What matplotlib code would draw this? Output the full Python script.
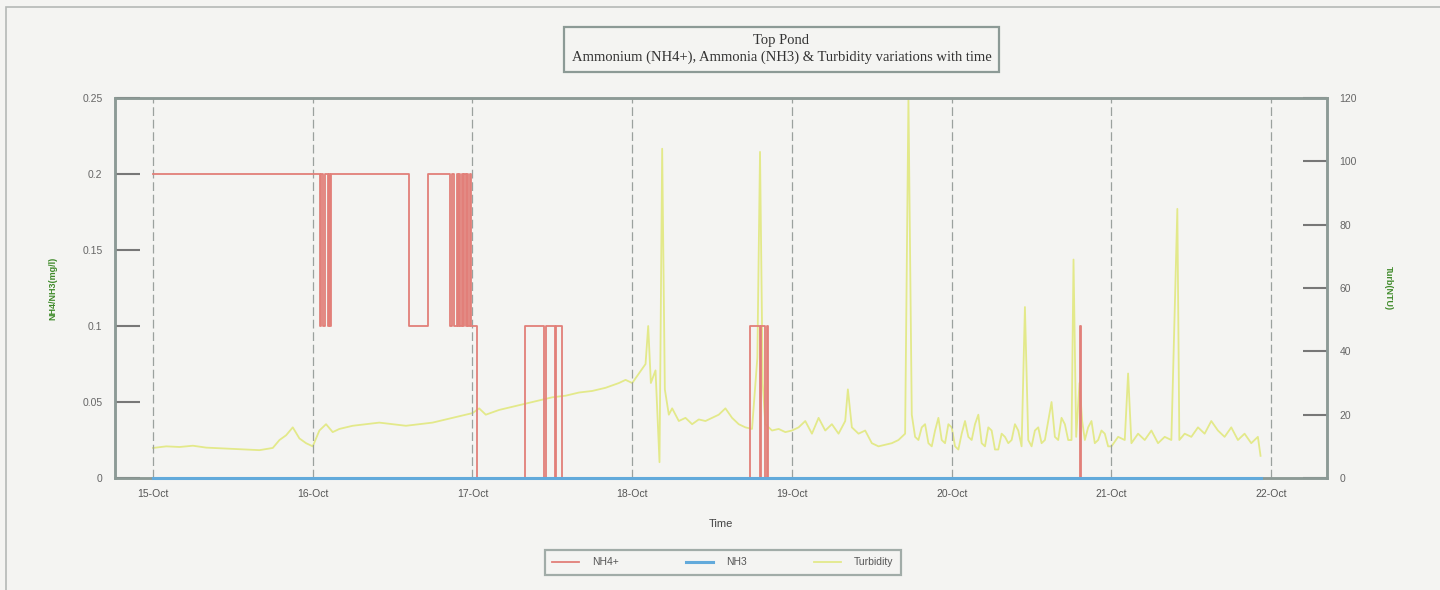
"""
Top Pond: NH4+, NH3 and turbidity against time
"""
import pandas as pd
import matplotlib
matplotlib.use("Agg")
import matplotlib.pyplot as plt
import matplotlib.dates as mdates
from matplotlib.patches import Rectangle

START = pd.Timestamp("2013-10-15 00:00")

# NH4+ (mg/l), step series, hours from 15-Oct 00:00
nh4_hours = [0, 25.1, 25.3, 25.6, 25.8, 26.3, 26.5, 26.6, 26.8,
             38.4, 41.3, 44.6, 44.9, 45.2, 45.6, 45.8, 46.0, 46.2, 46.4,
             46.6, 46.8, 47.0, 47.2, 47.4, 47.6, 47.8, 48.7,
             55.9, 58.8, 59.0, 60.4, 60.6, 61.5,
             89.7, 91.2, 91.4, 92.0, 92.2, 92.4,
             139.2, 139.5, 166.4]
nh4_vals = [0.2, 0.1, 0.2, 0.1, 0.2, 0.1, 0.2, 0.1, 0.2,
            0.1, 0.2, 0.1, 0.2, 0.1, 0.2, 0.1, 0.2, 0.1, 0.2,
            0.1, 0.2, 0.1, 0.2, 0.1, 0.2, 0.1, 0.0,
            0.1, 0.0, 0.1, 0.0, 0.1, 0.0,
            0.1, 0.0, 0.1, 0.0, 0.1, 0.0,
            0.1, 0.0, 0.0]

# NH3 (mg/l)
nh3_hours = [0, 48, 96, 166.4]
nh3_vals = [0.0, 0.0, 0.0, 0.0]

# Turbidity (NTU)
turb_hours = [0, 2, 4, 6, 8, 10, 12, 14, 16, 18, 19, 20, 21, 22, 23, 24,
              25, 26, 27, 28, 30, 32, 34, 36, 38, 40, 42, 44, 46, 48, 49, 50,
              52, 54, 56, 58, 60, 62, 64, 66, 68, 70, 71,
              72, 73, 74, 74.4, 74.8, 75.5, 76.1, 76.5, 76.9, 77.5, 78, 79, 80,
              81, 82, 83, 84, 85, 86, 87, 88, 89, 90, 90.8, 91.2, 91.6, 92, 93,
              94, 95, 96, 97, 98, 99, 100, 101, 102, 103, 104, 104.4, 105, 106,
              107, 108, 109, 110, 111, 112, 113, 113.5, 114, 114.5, 115, 115.5,
              116, 116.5, 117, 117.5, 118, 118.5, 119, 119.5, 120, 120.5, 121,
              121.5, 122, 122.5, 123, 123.5, 124, 124.5, 125, 125.5, 126, 126.5,
              127, 127.5, 128, 128.5, 129, 129.5, 130, 130.5, 131,
              131.5, 132, 132.5, 133, 133.5, 134, 134.5, 135, 135.5, 136, 136.5,
              137, 137.5, 138, 138.3, 138.7, 139.2, 139.6, 140, 140.5,
              141, 141.5, 142, 142.5, 143, 143.5, 144, 145, 146, 146.5, 147, 148,
              149, 150, 151, 152, 153, 153.9, 154.2, 155, 156, 157, 158, 159, 160,
              161, 162, 163, 164, 165, 166, 166.4]
turb_vals = [9.5, 10, 9.8, 10.2, 9.6, 9.4, 9.2, 9.0, 8.8, 9.5, 12, 13.5, 16, 12.5, 11, 10,
             15, 17, 14.5, 15.5, 16.5, 17, 17.5, 17, 16.5, 17, 17.5, 18.5, 19.5, 20.5, 22, 20,
             21.5, 22.5, 23.5, 24.5, 25.5, 26, 27, 27.5, 28.5, 30, 31,
             30, 33, 36, 48, 30, 34, 5, 104, 28, 20, 22, 18, 19,
             17, 18.5, 18, 19, 20, 22, 19, 17, 16, 15.5, 38, 103, 30, 17, 15,
             15.5, 14.5, 15, 16, 18, 14, 19, 15, 17, 14, 18, 28, 16, 14,
             15, 11, 10, 10.5, 11, 12, 14, 120, 20, 13, 12, 16,
             17, 11, 10, 15, 19, 12, 11, 17, 16, 10, 9,
             14, 18, 13, 12, 17, 20, 11, 10, 16, 15, 9, 9,
             14, 13, 11, 12, 17, 15, 10, 54,
             12, 10, 15, 16, 11, 12, 18, 24, 13, 12, 19,
             17, 12, 12, 69, 13, 30, 18, 12, 16,
             18, 11, 12, 15, 14, 10, 10, 13, 12, 33, 11, 14,
             12, 15, 11, 13, 12, 85, 12, 14, 13, 16, 14, 18, 15,
             13, 16, 12, 14, 11, 13, 7]


def to_time(hours):
    return START + pd.to_timedelta(hours, unit="h")


plt.rcParams["font.family"] = ["Liberation Sans", "DejaVu Sans"]
bg = "#f4f4f2"
fig = plt.figure(figsize=[14.4, 5.9], dpi=100, facecolor=bg)
ax = fig.add_axes([0.0799, 0.1898, 0.8417, 0.644])
ax2 = ax.twinx()
ax.set_zorder(ax2.get_zorder() + 1)
ax.patch.set_visible(False)
ax2.set_facecolor(bg)

l3, = ax2.plot(to_time(turb_hours), turb_vals, color="#e3e98a", lw=1.3, label="Turbidity")
l1, = ax.plot(to_time(nh4_hours), nh4_vals, color="#e27f79", lw=1.3,
              drawstyle="steps-post", label="NH4+")
l2, = ax.plot(to_time(nh3_hours), nh3_vals, color="#62aadb", lw=2.2, label="NH3",
              clip_on=False, zorder=3)

ax.set_xlim(START - pd.Timedelta(hours=5.7), START + pd.Timedelta(hours=176.4))
ax.set_ylim(0, 0.25)
ax2.set_ylim(0, 120)
ax.set_yticks([0, 0.05, 0.1, 0.15, 0.2, 0.25])
ax.set_yticklabels(["0", "0.05", "0.1", "0.15", "0.2", "0.25"])
ax2.set_yticks([0, 20, 40, 60, 80, 100, 120])

ax.xaxis.set_major_locator(mdates.DayLocator())
ax.xaxis.set_major_formatter(mdates.DateFormatter("%d-%b"))
ax.grid(axis="x", color="#9ba19e", ls=(0, (7, 3)), lw=0.9)

ax.tick_params(axis="x", length=0, pad=8, labelsize=7.5, labelcolor="#555555")
ax.tick_params(axis="y", direction="in", length=18, width=1.5, color="#777777",
               pad=9, labelsize=7.5, labelcolor="#666666")
ax2.tick_params(axis="y", direction="in", length=17, width=1.5, color="#777777",
                pad=9, labelsize=7.5, labelcolor="#666666")

for a in (ax, ax2):
    for s in a.spines.values():
        s.set_color("#8c9a96")
        s.set_linewidth(1.8)

ax.set_xlabel("Time", fontsize=8, color="#444444", labelpad=14)
ax.set_ylabel("NH4/NH3(mg/l)", fontsize=6.5, color="#3f8a2a", fontweight="bold", labelpad=18)
ax2.set_ylabel("Turb(NTU)", fontsize=6.5, color="#3f8a2a", fontweight="bold",
               rotation=270, labelpad=26)

fig.text(0.5427, 0.917, "Top Pond\nAmmonium (NH4+), Ammonia (NH3) & Turbidity variations with time",
         ha="center", va="center", fontsize=10.5, family=["Liberation Serif", "DejaVu Serif"],
         color="#333333", linespacing=1.4,
         bbox=dict(boxstyle="square,pad=0.5", fc=bg, ec="#8c9a96", lw=1.6))

leg = fig.legend(handles=[l1, l2, l3], loc="center", bbox_to_anchor=(0.502, 0.047), ncol=3,
                 fontsize=7.5, frameon=True, fancybox=False, handlelength=2.6,
                 columnspacing=6.5, handletextpad=1.2, borderpad=0.7)
leg.get_frame().set_edgecolor("#8c9a96")
leg.get_frame().set_linewidth(1.6)
leg.get_frame().set_facecolor(bg)
for t in leg.get_texts():
    t.set_color("#555555")

# faint page border from the scanned page
fig.patches.append(Rectangle((0.004, -0.1), 1.2, 1.088, transform=fig.transFigure,
                             fill=False, ec="#b5b9b6", lw=1.2))

plt.savefig("out.png", dpi=100, facecolor=bg)
